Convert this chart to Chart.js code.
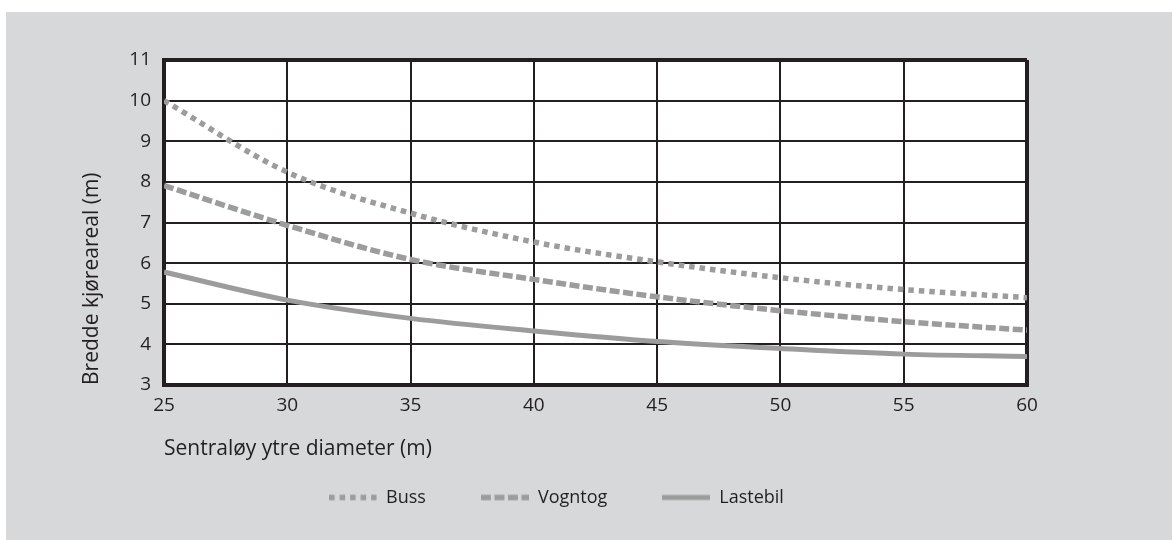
<!DOCTYPE html>
<html>
<head>
<meta charset="utf-8">
<script src="https://cdn.jsdelivr.net/npm/chart.js@4"></script>
<style>
    html, body { margin: 0; padding: 0; background: #ffffff; }
    #frame { position: absolute; left: 6px; top: 12px; width: 1166px; height: 528px; background: #d7d8da; }
</style>
</head>
<body>
<div id="frame"><canvas id="chart" width="1166" height="528"></canvas></div>
<script>
// diameter of the roundabout island (m)
const diameters = [25, 30, 35, 40, 45, 50, 55, 60];
// width of the driving area (m)
const buss = [10.0, 8.24, 7.23, 6.52, 6.03, 5.64, 5.35, 5.15];
const vogntog = [7.91, 6.93, 6.09, 5.6, 5.17, 4.83, 4.56, 4.35];
const lastebil = [5.78, 5.09, 4.64, 4.33, 4.07, 3.9, 3.76, 3.7];
const yTicks = [3, 4, 5, 6, 7, 8, 9, 10, 11];

const ink = '#231f20';
const lineGrey = '#9c9c9c';

const toPoints = values => values.map((v, i) => ({ x: diameters[i], y: v }));

// little legend swatch with the same dash pattern as the line
function makeSwatch(dash, width) {
    const c = document.createElement('canvas');
    c.width = 48;
    c.height = 8;
    const g = c.getContext('2d');
    g.strokeStyle = lineGrey;
    g.lineWidth = width;
    g.setLineDash(dash);
    g.beginPath();
    g.moveTo(0, 4);
    g.lineTo(48, 4);
    g.stroke();
    return c;
}

// white plot area
const plotBackground = {
    id: 'plotBackground',
    beforeDraw(chart) {
        const { ctx, chartArea } = chart;
        ctx.save();
        ctx.fillStyle = '#ffffff';
        ctx.fillRect(chartArea.left, chartArea.top, chartArea.right - chartArea.left, chartArea.bottom - chartArea.top);
        ctx.restore();
    }
};

const edgeWidth = (ctx, first, last) => {
    const v = ctx.tick ? ctx.tick.value : null;
    return (v === first || v === last) ? 4 : 2;
};

const styles = [
    { dash: [5.5, 5], width: 5.5 },
    { dash: [10, 3.5], width: 5.5 },
    { dash: [], width: 5 }
];

new Chart(document.getElementById('chart'), {
    type: 'line',
    data: {
        datasets: [
            {
                label: 'Buss',
                data: toPoints(buss),
                borderColor: lineGrey,
                backgroundColor: lineGrey,
                borderWidth: styles[0].width,
                borderDash: styles[0].dash,
                pointRadius: 0,
                cubicInterpolationMode: 'monotone'
            },
            {
                label: 'Vogntog',
                data: toPoints(vogntog),
                borderColor: lineGrey,
                backgroundColor: lineGrey,
                borderWidth: styles[1].width,
                borderDash: styles[1].dash,
                pointRadius: 0,
                cubicInterpolationMode: 'monotone'
            },
            {
                label: 'Lastebil',
                data: toPoints(lastebil),
                borderColor: lineGrey,
                backgroundColor: lineGrey,
                borderWidth: styles[2].width,
                pointRadius: 0,
                cubicInterpolationMode: 'monotone'
            }
        ]
    },
    options: {
        responsive: false,
        animation: false,
        layout: {
            padding: { left: 80, right: 145, top: 48, bottom: 23.5 }
        },
        scales: {
            x: {
                type: 'linear',
                min: 25,
                max: 60,
                afterFit: scale => { scale.height = 48.5; },
                ticks: {
                    stepSize: 5,
                    padding: 9,
                    color: ink,
                    font: { family: 'Open Sans', size: 19 }
                },
                grid: {
                    color: ink,
                    drawTicks: false,
                    lineWidth: ctx => edgeWidth(ctx, 25, 60)
                },
                border: { color: ink, width: 4 },
                title: {
                    display: true,
                    text: 'Sentraløy ytre diameter (m)',
                    align: 'start',
                    color: ink,
                    padding: { top: 0, bottom: -28.1 },
                    font: { family: 'Open Sans', size: 21 }
                }
            },
            y: {
                min: 3,
                max: 11,
                afterFit: scale => { scale.width = 78; },
                afterBuildTicks: scale => { scale.ticks = yTicks.map(v => ({ value: v })); },
                ticks: {
                    padding: 13,
                    color: ink,
                    font: { family: 'Open Sans', size: 19 }
                },
                grid: {
                    color: ink,
                    drawTicks: false,
                    lineWidth: ctx => edgeWidth(ctx, 3, 11)
                },
                border: { color: ink, width: 4 },
                title: {
                    display: true,
                    text: 'Bredde kjøreareal (m)',
                    align: 'start',
                    color: ink,
                    padding: { top: -6.6, bottom: 0 },
                    font: { family: 'Open Sans', size: 21 }
                }
            }
        },
        plugins: {
            legend: {
                position: 'bottom',
                labels: {
                    usePointStyle: true,
                    pointStyleWidth: 48,
                    padding: 55,
                    color: ink,
                    font: { family: 'Open Sans', size: 18 },
                    generateLabels: chart => {
                        const items = Chart.defaults.plugins.legend.labels.generateLabels(chart);
                        items.forEach((item, i) => {
                            item.pointStyle = makeSwatch(styles[i].dash, styles[i].width);
                        });
                        return items;
                    }
                }
            },
            tooltip: { enabled: false }
        }
    },
    plugins: [plotBackground]
});
</script>
</body>
</html>
